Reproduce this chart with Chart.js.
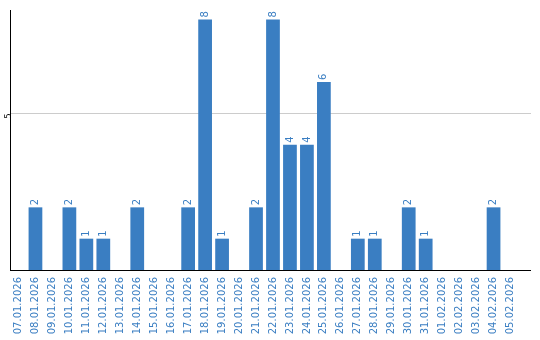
<!DOCTYPE html>
<html>
<head>
<meta charset="utf-8">
<script src="https://cdn.jsdelivr.net/npm/chart.js@4"></script>
<style>
  html, body { margin: 0; padding: 0; background: #fff; }
  #wrap { width: 540px; height: 340px; }
</style>
</head>
<body>
<div id="wrap"><canvas id="barChart"></canvas></div>
<script>
const dates = [
  "07.01.2026", "08.01.2026", "09.01.2026", "10.01.2026", "11.01.2026",
  "12.01.2026", "13.01.2026", "14.01.2026", "15.01.2026", "16.01.2026",
  "17.01.2026", "18.01.2026", "19.01.2026", "20.01.2026", "21.01.2026",
  "22.01.2026", "23.01.2026", "24.01.2026", "25.01.2026", "26.01.2026",
  "27.01.2026", "28.01.2026", "29.01.2026", "30.01.2026", "31.01.2026",
  "01.02.2026", "02.02.2026", "03.02.2026", "04.02.2026", "05.02.2026"
];
const counts = [0, 2, 0, 2, 1, 1, 0, 2, 0, 0, 2, 8, 1, 0, 2, 8, 4, 4, 6, 0, 1, 1, 0, 2, 1, 0, 0, 0, 2, 0];
const yTickValues = [5];

const barColor = "#3a7ec2";
const axisEnd = 531; // the axis line and gridline run a bit past the last category

// value labels above the bars, rotated like the axis labels
const barLabels = {
  id: "barLabels",
  beforeDatasetsDraw(chart) {
    // extend x axis line and gridline to the right
    const ctx = chart.ctx;
    const area = chart.chartArea;
    const y = chart.scales.y;
    ctx.save();
    ctx.lineWidth = 1;
    ctx.strokeStyle = "#cccccc";
    yTickValues.forEach(v => {
      const py = Math.round(y.getPixelForValue(v)) + 0.5;
      ctx.beginPath();
      ctx.moveTo(area.right, py);
      ctx.lineTo(axisEnd, py);
      ctx.stroke();
    });
    ctx.strokeStyle = "#000";
    const by = Math.round(y.getPixelForValue(0)) + 0.5;
    ctx.beginPath();
    ctx.moveTo(area.right - 1, by);
    ctx.lineTo(axisEnd, by);
    ctx.stroke();
    ctx.restore();
  },
  afterDatasetsDraw(chart) {
    const ctx = chart.ctx;
    const meta = chart.getDatasetMeta(0);
    ctx.save();
    ctx.fillStyle = barColor;
    ctx.font = "10px 'DejaVu Sans'";
    ctx.textAlign = "left";
    ctx.textBaseline = "middle";
    meta.data.forEach((bar, i) => {
      const v = counts[i];
      if (!v) return;
      ctx.save();
      ctx.translate(bar.x, bar.y - 2);
      ctx.rotate(-Math.PI / 2);
      ctx.fillText(String(v), 0, 0);
      ctx.restore();
    });
    ctx.restore();
  }
};

const ctx = document.getElementById("barChart").getContext("2d");

new Chart(ctx, {
  type: "bar",
  data: {
    labels: dates,
    datasets: [{
      data: counts,
      backgroundColor: barColor,
      borderWidth: 0,
      categoryPercentage: 0.9,
      barPercentage: 0.9
    }]
  },
  options: {
    responsive: true,
    maintainAspectRatio: false,
    animation: false,
    layout: { padding: { top: 10, right: 21, left: 0, bottom: 0 } },
    plugins: {
      legend: { display: false },
      tooltip: { enabled: false }
    },
    scales: {
      x: {
        grid: { display: false, drawTicks: false },
        border: { color: "#000", width: 1 },
        ticks: {
          color: barColor,
          font: { family: "DejaVu Sans", size: 10 },
          minRotation: 90,
          maxRotation: 90,
          autoSkip: false,
          padding: 7
        },
        afterFit(scale) { scale.height = 70; }
      },
      y: {
        min: 0,
        max: 8.3,
        grid: { color: "#cccccc", drawTicks: false },
        border: { color: "#000", width: 1 },
        ticks: {
          color: "#000",
          font: { family: "DejaVu Sans", size: 8 },
          minRotation: 90,
          maxRotation: 90,
          padding: 1
        },
        afterBuildTicks(scale) {
          scale.ticks = yTickValues.map(v => ({ value: v }));
        },
        afterFit(scale) { scale.width = 10; }
      }
    }
  },
  plugins: [barLabels]
});
</script>
</body>
</html>
